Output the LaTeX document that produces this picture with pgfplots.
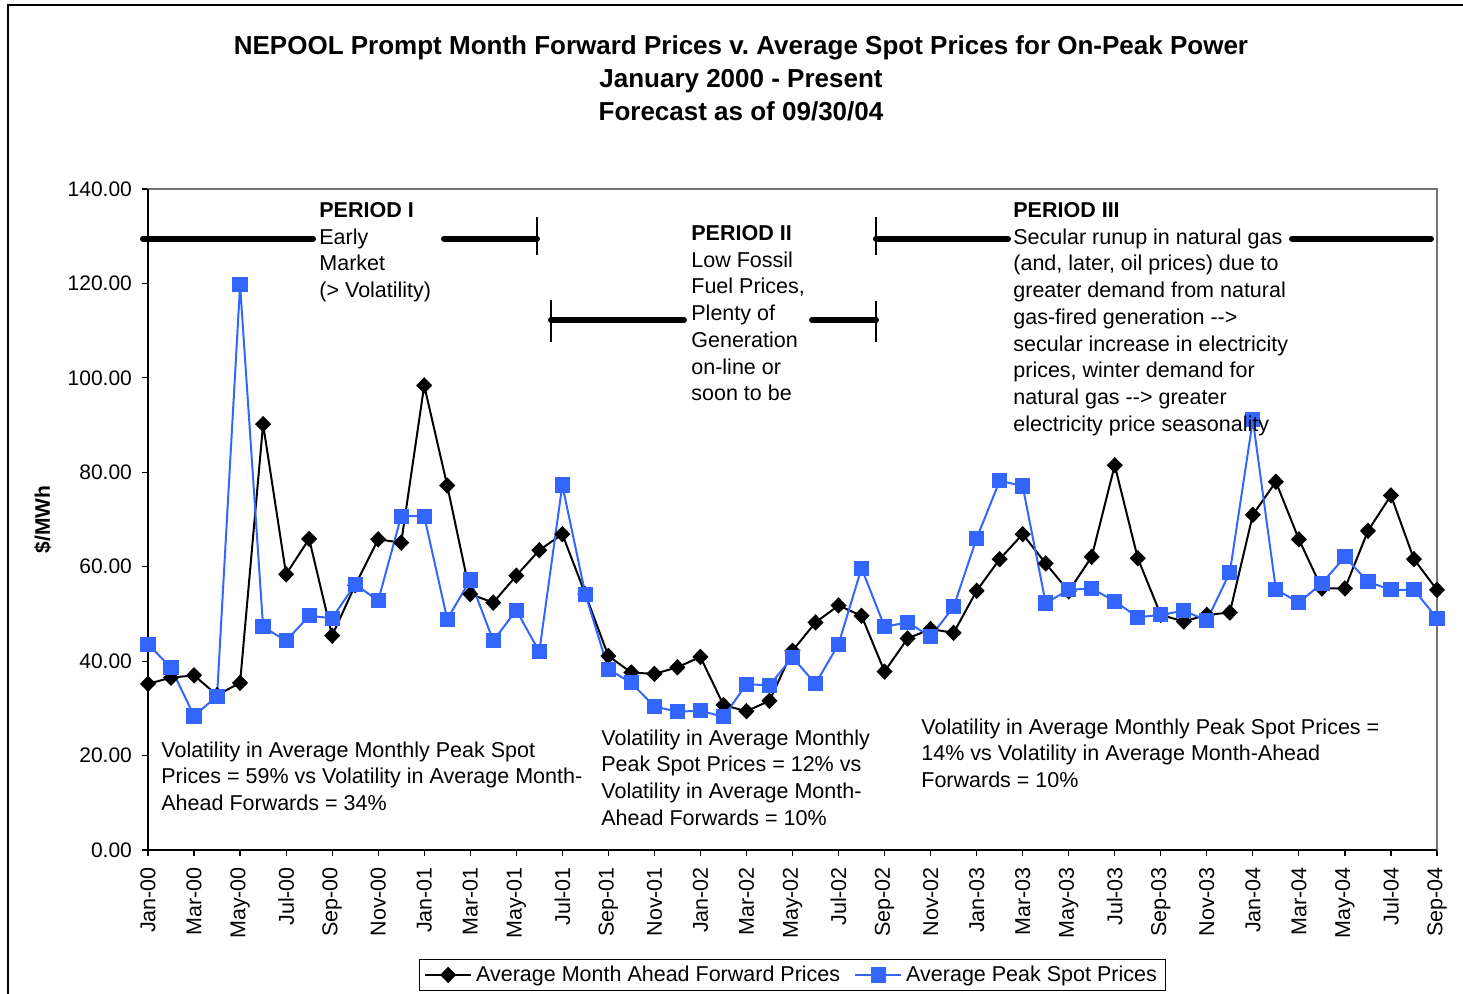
\documentclass[border=0pt]{standalone}
\usepackage{fontspec}
\setmainfont{Liberation Sans}
\usepackage{pgfplots}
\usepackage{pgfplotstable}
\pgfplotsset{compat=1.18}
\frenchspacing
\definecolor{spotblue}{RGB}{51,102,255}
\newcommand{\lbl}{\fontsize{10.5}{12}\selectfont}
\newcommand{\lgd}{\fontsize{10.75}{12}\selectfont}
\newcommand{\ann}{\fontsize{10.75}{13.35}\selectfont}
\newcommand{\textblock}[3]{%
  \foreach \t [count=\i from 0] in {#3} {\node[anchor=base west, inner sep=0pt, font=\ann] at (#1, #2+26.7*\i) {\t};}}

\pgfplotstableread{
m fwd spot
0 35.2 43.6
1 36.5 38.6
2 37.0 28.4
3 32.8 32.6
4 35.4 119.7
5 90.2 47.3
6 58.4 44.3
7 65.9 49.6
8 45.4 49.1
9 56.1 56.3
10 65.8 52.8
11 65.1 70.7
12 98.4 70.7
13 77.2 48.9
14 54.2 57.2
15 52.4 44.3
16 58.1 50.8
17 63.5 42.0
18 66.9 77.3
19 54.2 54.2
20 41.1 38.3
21 37.6 35.4
22 37.3 30.4
23 38.7 29.3
24 40.9 29.5
25 30.7 28.2
26 29.4 35.1
27 31.6 34.9
28 42.2 40.8
29 48.2 35.2
30 51.8 43.6
31 49.6 59.7
32 37.8 47.3
33 44.8 48.2
34 46.8 45.2
35 46.0 51.5
36 54.9 66.0
37 61.6 78.2
38 66.9 77.1
39 60.7 52.3
40 54.8 55.1
41 62.1 55.4
42 81.5 52.7
43 61.8 49.3
44 49.8 49.8
45 48.4 50.7
46 49.8 48.6
47 50.3 58.8
48 71.0 91.1
49 78.0 55.2
50 65.8 52.4
51 55.4 56.5
52 55.4 62.1
53 67.6 56.8
54 75.1 55.1
55 61.6 55.1
56 55.1 49.1
}\datatable

\begin{document}
\begin{tikzpicture}
\path[use as bounding box] (0,0) rectangle (731.5pt,-496.5pt);
\begin{axis}[
  at={(74pt,-425pt)}, anchor=south west,
  scale only axis, width=644.5pt, height=330.5pt,
  xmin=0, xmax=56, ymin=0, ymax=140,
  clip=false,
  /pgf/number format/assume math mode=true,
  xtick={0,2,...,56},
  xticklabels={Jan-00,Mar-00,May-00,Jul-00,Sep-00,Nov-00,
               Jan-01,Mar-01,May-01,Jul-01,Sep-01,Nov-01,
               Jan-02,Mar-02,May-02,Jul-02,Sep-02,Nov-02,
               Jan-03,Mar-03,May-03,Jul-03,Sep-03,Nov-03,
               Jan-04,Mar-04,May-04,Jul-04,Sep-04},
  ytick={0,20,...,140},
  yticklabel={\pgfmathprintnumber[fixed,fixed zerofill,precision=2]{\tick}},
  xtick pos=bottom, ytick pos=left,
  tick align=outside, major tick length=3pt,
  tick style={black, line width=0.6pt},
  axis line style={draw=black!55, line width=0.6pt},
  ticklabel style={font=\lbl},
  xticklabel style={yshift=-2pt, rotate=90, anchor=east, font=\lgd},
  yticklabel style={xshift=-1.5pt},
  ylabel={\bfseries \$/MWh},
  ylabel style={font=\lbl, at={(axis description cs:-0.0815,0.5)}, anchor=center},
  legend style={at={(0.5,-0.189)}, anchor=center, legend columns=2, draw=black, line width=0.6pt,
    font=\lgd, inner xsep=2.5pt, inner ysep=1pt,
    /tikz/every even column/.append style={column sep=5pt}},
  legend image code/.code={\draw[mark repeat=2,mark phase=2,#1] plot coordinates {(0pt,0pt)(11.5pt,0pt)(23pt,0pt)};},
]
\addplot[black, line width=1pt, mark=diamond*, mark size=3.4pt, mark options={xscale=1.3, fill=black}] table[x=m,y=fwd] \datatable;
\addlegendentry{Average Month Ahead Forward Prices}
\addplot[spotblue, line width=1pt, mark=square*, mark size=3.3pt, mark options={fill=spotblue}] table[x=m,y=spot] \datatable;
\addlegendentry{Average Peak Spot Prices}
\draw[black, line width=0.8pt] (rel axis cs:0,1) -- (rel axis cs:0,0) -- (rel axis cs:1,0);
\end{axis}
\begin{scope}[x=0.5pt,y=-0.5pt]
  % outer frame
  \draw[black, line width=0.6pt] (8,1010) -- (8,5) -- (1480,5);
  % title
  \node[anchor=base, inner sep=0pt, font=\fontsize{13}{16}\selectfont\bfseries] at (741,54) {NEPOOL Prompt Month Forward Prices v. Average Spot Prices for On-Peak Power};
  \node[anchor=base, inner sep=0pt, font=\fontsize{13}{16}\selectfont\bfseries] at (741,87) {January 2000 - Present};
  \node[anchor=base, inner sep=0pt, font=\fontsize{13}{16}\selectfont\bfseries] at (741,120) {Forecast as of 09/30/04};
  % period bars
  \draw[line width=3pt, line cap=round] (143,238.7) -- (313,238.7);
  \draw[line width=3pt, line cap=round] (444,238.7) -- (537,238.7);
  \draw[line width=0.6pt] (537,217) -- (537,255);
  \draw[line width=3pt, line cap=round] (551,320) -- (684,320);
  \draw[line width=3pt, line cap=round] (812,320) -- (876,320);
  \draw[line width=0.6pt] (551,300) -- (551,342);
  \draw[line width=0.6pt] (876,301) -- (876,342);
  \draw[line width=3pt, line cap=round] (876,238.7) -- (1008,238.7);
  \draw[line width=0.6pt] (876,217) -- (876,255);
  \draw[line width=3pt, line cap=round] (1292,238.7) -- (1431,238.7);
  % period texts
  \textblock{319}{217.5}{{\bfseries PERIOD I},Early,Market,(> Volatility)}
  \textblock{691}{240.5}{{\bfseries PERIOD II},Low Fossil,{Fuel Prices,},Plenty of,Generation,on-line or,soon to be}
  \textblock{1013}{217.5}{{\bfseries PERIOD III},Secular runup in natural gas,{(and, later, oil prices) due to},greater demand from natural,gas-fired generation -{}->,secular increase in electricity,{prices, winter demand for},natural gas -{}-> greater,electricity price seasonality}
  \textblock{161}{757}{Volatility in Average Monthly Peak Spot,Prices = 59\% vs Volatility in Average Month-,Ahead Forwards = 34\%}
  \textblock{601}{745}{Volatility in Average Monthly,Peak Spot Prices = 12\% vs,Volatility in Average Month-,Ahead Forwards = 10\%}
  \textblock{921}{734}{Volatility in Average Monthly Peak Spot Prices =,14\% vs Volatility in Average Month-Ahead,Forwards = 10\%}
\end{scope}
\end{tikzpicture}
\end{document}
